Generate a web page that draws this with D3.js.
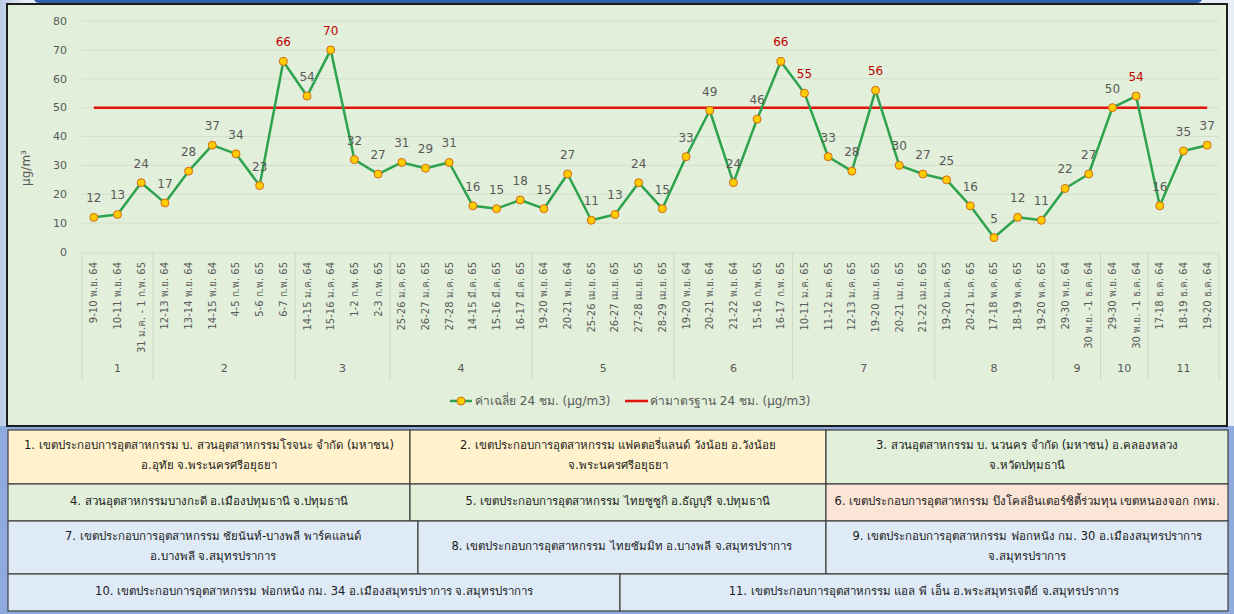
<!DOCTYPE html>
<html><head><meta charset="utf-8">
<script src="https://cdn.jsdelivr.net/npm/d3@7"></script>
<style>
html,body{margin:0;padding:0;background:#dfe8f4;}
svg{display:block;}
</style></head>
<body>
<svg id="chart" width="1234" height="614"></svg>
<script>
// ---------- DATA ----------
const categories = [
 "9-10 พ.ย. 64","10-11 พ.ย. 64","31 ม.ค. - 1 ก.พ. 65",
 "12-13 พ.ย. 64","13-14 พ.ย. 64","14-15 พ.ย. 64","4-5 ก.พ. 65","5-6 ก.พ. 65","6-7 ก.พ. 65",
 "14-15 ม.ค. 64","15-16 ม.ค. 64","1-2 ก.พ. 65","2-3 ก.พ. 65",
 "25-26 ม.ค. 65","26-27 ม.ค. 65","27-28 ม.ค. 65","14-15 มี.ค. 65","15-16 มี.ค. 65","16-17 มี.ค. 65",
 "19-20 พ.ย. 64","20-21 พ.ย. 64","25-26 เม.ย. 65","26-27 เม.ย. 65","27-28 เม.ย. 65","28-29 เม.ย. 65",
 "19-20 พ.ย. 64","20-21 พ.ย. 64","21-22 พ.ย. 64","15-16 ก.พ. 65","16-17 ก.พ. 65",
 "10-11 ม.ค. 65","11-12 ม.ค. 65","12-13 ม.ค. 65","19-20 เม.ย. 65","20-21 เม.ย. 65","21-22 เม.ย. 65",
 "19-20 ม.ค. 65","20-21 ม.ค. 65","17-18 พ.ค. 65","18-19 พ.ค. 65","19-20 พ.ค. 65",
 "29-30 พ.ย. 64","30 พ.ย. -1 ธ.ค. 64",
 "29-30 พ.ย. 64","30 พ.ย. -1 ธ.ค. 64",
 "17-18 ธ.ค. 64","18-19 ธ.ค. 64","19-20 ธ.ค. 64"
];
const categoryGroup = [
 "1","1","1",
 "2","2","2","2","2","2",
 "3","3","3","3",
 "4","4","4","4","4","4",
 "5","5","5","5","5","5",
 "6","6","6","6","6",
 "7","7","7","7","7","7",
 "8","8","8","8","8",
 "9","9",
 "10","10",
 "11","11","11"
];
const avg24h = [
 12,13,24,
 17,28,37,34,23,66,
 54,70,32,27,
 31,29,31,16,15,18,
 15,27,11,13,24,15,
 33,49,24,46,66,
 55,33,28,56,30,27,
 25,16,5,12,11,
 22,27,
 50,54,
 16,35,37
];
// labels drawn in red in the original
const redLabel = [
 0,0,0,
 0,0,0,0,0,1,
 0,1,0,0,
 0,0,0,0,0,0,
 0,0,0,0,0,0,
 0,0,0,0,1,
 1,0,0,1,0,0,
 0,0,0,0,0,
 0,0,
 0,1,
 0,0,0
];
const standard24h = 50;
const yTicks = [0,10,20,30,40,50,60,70,80];
const yTitle = "µg/m³";
const legendAvg = "ค่าเฉลี่ย 24 ชม. (µg/m3)";
const legendStd = "ค่ามาตรฐาน 24 ชม. (µg/m3)";

const tableRows = [
 [ {t:["1. เขตประกอบการอุตสาหกรรม  บ. สวนอุตสาหกรรมโรจนะ จำกัด (มหาชน)","อ.อุทัย จ.พระนครศรีอยุธยา"], c:"#fff2cc"},
   {t:["2. เขตประกอบการอุตสาหกรรม  แฟคตอรี่แลนด์ วังน้อย อ.วังน้อย","จ.พระนครศรีอยุธยา"], c:"#fff2cc"},
   {t:["3. สวนอุตสาหกรรม บ. นวนคร จำกัด (มหาชน) อ.คลองหลวง","จ.หวัดปทุมธานี"], c:"#e2efda"} ],
 [ {t:["4. สวนอุตสาหกรรมบางกะดี อ.เมืองปทุมธานี จ.ปทุมธานี"], c:"#e2efda"},
   {t:["5. เขตประกอบการอุตสาหกรรม ไทยซูซูกิ อ.ธัญบุรี จ.ปทุมธานี"], c:"#e2efda"},
   {t:["6. เขตประกอบการอุตสาหกรรม บึงโคล่อินเตอร์ซิตี้ร่วมทุน เขตหนองจอก กทม."], c:"#fbe5d6"} ],
 [ {t:["7. เขตประกอบการอุตสาหกรรม ชัยนันท์-บางพลี พาร์คแลนด์","อ.บางพลี จ.สมุทรปราการ"], c:"#deebf7"},
   {t:["8. เขตประกอบการอุตสาหกรรม ไทยซัมมิท อ.บางพลี จ.สมุทรปราการ"], c:"#deebf7"},
   {t:["9. เขตประกอบการอุตสาหกรรม ฟอกหนัง กม. 30 อ.เมืองสมุทรปราการ","จ.สมุทรปราการ"], c:"#deebf7"} ],
 [ {t:["10. เขตประกอบการอุตสาหกรรม ฟอกหนัง กม. 34 อ.เมืองสมุทรปราการ จ.สมุทรปราการ"], c:"#deebf7"},
   {t:["11. เขตประกอบการอุตสาหกรรม แอล พี เอ็น อ.พระสมุทรเจดีย์ จ.สมุทรปราการ"], c:"#deebf7"} ]
];

// ---------- DRAW ----------
const svg = d3.select("#chart");
const FONT = "Tahoma, 'DejaVu Sans', 'Noto Sans', sans-serif";
const defs = svg.append("defs");
const bg = defs.append("linearGradient").attr("id","pagebg").attr("x1",0).attr("x2",1).attr("y1",0).attr("y2",0);
bg.append("stop").attr("offset","0").attr("stop-color","#b9cbe6");
bg.append("stop").attr("offset","0.02").attr("stop-color","#e8eef7");
bg.append("stop").attr("offset","1").attr("stop-color","#e8eef7");
svg.append("rect").attr("width",1234).attr("height",614).attr("fill","url(#pagebg)");
svg.append("rect").attr("x",0).attr("y",426).attr("width",1234).attr("height",188).attr("fill","#8faadc");
// top blue bar
svg.append("rect").attr("x",34).attr("y",-6).attr("width",1168).attr("height",9).attr("rx",5).attr("fill","#2f62a8");

// chart frame
svg.append("rect").attr("x",7).attr("y",4).attr("width",1220).attr("height",422)
  .attr("fill","#e2efda").attr("stroke","#1c1c1c").attr("stroke-width",2);

const x = d3.scaleBand().domain(d3.range(categories.length)).range([82,1219]).padding(0);
const y = d3.scaleLinear().domain([0,80]).range([252,21]);
const cx = i => x(i) + x.bandwidth()/2;

// gridlines
svg.append("g").selectAll("line").data(yTicks.filter(d=>d>0)).join("line")
  .attr("x1",81).attr("x2",1219).attr("y1",d=>y(d)).attr("y2",d=>y(d))
  .attr("stroke","#d2dfca").attr("stroke-width",1);
// y axis labels
svg.append("g").selectAll("text").data(yTicks).join("text")
  .attr("x",67).attr("y",d=>y(d)).attr("dy","0.35em").attr("text-anchor","end")
  .attr("font-family",FONT).attr("font-size",11).attr("fill","#595959").text(d=>d);
svg.append("text").attr("transform","translate(30,168) rotate(-90)").attr("text-anchor","middle")
  .attr("font-family",FONT).attr("font-size",12).attr("fill","#595959").text(yTitle);

// category axis line
svg.append("line").attr("x1",81).attr("x2",1219).attr("y1",y(0)+1).attr("y2",y(0)+1)
  .attr("stroke","#d2dfca");

// group separators
const groupNames = Array.from(new Set(categoryGroup));
const groupSpans = groupNames.map(g => {
  const idx = categoryGroup.map((v,i)=>v===g?i:-1).filter(i=>i>=0);
  return {g, start:idx[0], end:idx[idx.length-1]};
});
const bounds = [x(0)].concat(groupSpans.map(s => x(s.end)+x.bandwidth()));
svg.append("g").selectAll("line").data(bounds).join("line")
  .attr("x1",d=>d).attr("x2",d=>d).attr("y1",y(0)+1).attr("y2",380)
  .attr("stroke","#ccd8c4").attr("stroke-width",1);
svg.append("g").selectAll("text").data(groupSpans).join("text")
  .attr("x",s=>(x(s.start)+x(s.end)+x.bandwidth())/2).attr("y",368).attr("dy","0.35em")
  .attr("text-anchor","middle").attr("font-family",FONT).attr("font-size",11).attr("fill","#595959")
  .text(s=>s.g);

// category labels (rotated)
svg.append("g").selectAll("text").data(categories).join("text")
  .attr("transform",(d,i)=>`translate(${cx(i)},262) rotate(-90)`)
  .attr("text-anchor","end").attr("dy","0.35em")
  .attr("font-family",FONT).attr("font-size",10).attr("fill","#595959")
  .text(d=>d);

// standard line
svg.append("line").attr("x1",cx(0)).attr("x2",cx(categories.length-1))
  .attr("y1",y(standard24h)).attr("y2",y(standard24h))
  .attr("stroke","#e3120b").attr("stroke-width",2.5);

// avg line
const line = d3.line().x((d,i)=>cx(i)).y(d=>y(d));
svg.append("path").datum(avg24h).attr("d",line).attr("fill","none")
  .attr("stroke","#2ea24d").attr("stroke-width",2.5).attr("stroke-linejoin","round");
svg.append("g").selectAll("circle").data(avg24h).join("circle")
  .attr("cx",(d,i)=>cx(i)).attr("cy",d=>y(d)).attr("r",4)
  .attr("fill","#ffcc00").attr("stroke","#d2691e").attr("stroke-width",1);
svg.append("g").selectAll("text").data(avg24h).join("text")
  .attr("x",(d,i)=>cx(i)).attr("y",d=>y(d)-15)
  .attr("text-anchor","middle").attr("font-family",FONT).attr("font-size",12)
  .attr("fill",(d,i)=>redLabel[i]?"#c00000":"#595959").text(d=>d);

// legend
const lg = svg.append("g").attr("font-family",FONT).attr("font-size",12).attr("fill","#595959");
lg.append("line").attr("x1",450).attr("x2",472).attr("y1",401).attr("y2",401).attr("stroke","#2ea24d").attr("stroke-width",2.5);
lg.append("circle").attr("cx",461).attr("cy",401).attr("r",4).attr("fill","#ffcc00").attr("stroke","#d2691e");
lg.append("text").attr("x",475).attr("y",401).attr("dy","0.35em").text(legendAvg);
lg.append("line").attr("x1",625).attr("x2",648).attr("y1",401).attr("y2",401).attr("stroke","#e3120b").attr("stroke-width",2.5);
lg.append("text").attr("x",650).attr("y",401).attr("dy","0.35em").text(legendStd);

// table
const rowY = [430,484,521,574,611];
const colX = [
 [8,410,826,1228],
 [8,410,826,1228],
 [8,418,826,1228],
 [8,620,1228]
];
const tg = svg.append("g").attr("font-family",FONT).attr("font-size",11.5).attr("fill","#1a1a1a");
tableRows.forEach((row,r)=>{
  row.forEach((cell,c)=>{
    const x0 = colX[r][c], x1 = colX[r][c+1], y0 = rowY[r], y1 = rowY[r+1];
    tg.append("rect").attr("x",x0).attr("y",y0).attr("width",x1-x0).attr("height",y1-y0)
      .attr("fill",cell.c).attr("stroke","#404040").attr("stroke-width",1.2);
    const n = cell.t.length, lh = 20, mid = (y0+y1)/2;
    cell.t.forEach((s,k)=>{
      tg.append("text").attr("x",(x0+x1)/2).attr("y",mid + (k-(n-1)/2)*lh - 2).attr("dy","0.35em")
        .attr("text-anchor","middle").text(s);
    });
  });
});
</script>
</body></html>
